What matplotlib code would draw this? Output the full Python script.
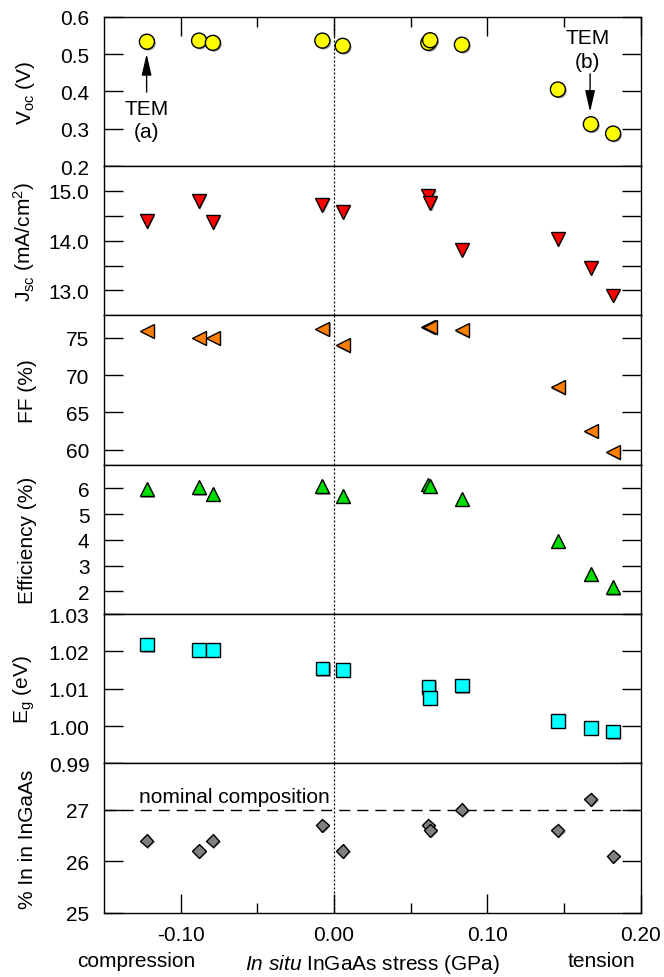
import matplotlib.pyplot as plt
import matplotlib.patheffects as pe
from matplotlib.ticker import FormatStrFormatter

plt.rcParams['font.family'] = ['Liberation Sans', 'DejaVu Sans']
plt.rcParams['mathtext.fontset'] = 'custom'
plt.rcParams['mathtext.rm'] = 'Liberation Sans'
plt.rcParams['mathtext.it'] = 'Liberation Sans:italic'
plt.rcParams['font.size'] = 15

# in situ stress of each sample (GPa)
stress = [-0.122, -0.088, -0.079, -0.0076, 0.0057, 0.0615, 0.0627, 0.0834, 0.146, 0.1675, 0.182]

voc = [0.533, 0.536, 0.530, 0.536, 0.522, 0.530, 0.537, 0.525, 0.405, 0.312, 0.287]
jsc = [14.39, 14.79, 14.37, 14.72, 14.58, 14.89, 14.75, 13.82, 14.04, 13.46, 12.90]
ff = [75.9, 75.0, 75.0, 76.2, 74.0, 76.5, 76.4, 76.0, 68.35, 62.5, 59.65]
eff = [5.97, 6.04, 5.80, 6.08, 5.70, 6.15, 6.10, 5.60, 3.97, 2.68, 2.16]
eg = [1.0218, 1.0203, 1.0203, 1.0154, 1.0150, 1.0104, 1.0075, 1.0109, 1.0014, 0.9995, 0.9985]
in_pct = [26.40, 26.20, 26.40, 26.70, 26.20, 26.70, 26.60, 27.00, 26.60, 27.20, 26.10]

nominal_in = 27

ylabels = [r'V$_{\mathrm{oc}}$ (V)', r'J$_{\mathrm{sc}}$ (mA/cm$^{\mathrm{2}}$)', 'FF (%)',
           'Efficiency (%)', r'E$_{\mathrm{g}}$ (eV)', '% In in InGaAs']

fig, axes = plt.subplots(6, 1, sharex=True, figsize=(6.64, 9.78), dpi=100)
fig.subplots_adjust(left=0.1566, right=0.9649, top=0.9819, bottom=0.0657, hspace=0)

shadow = [pe.SimplePatchShadow(offset=(1.0, -1.0), shadow_rgbFace='0.35', alpha=0.6), pe.Normal()]

# (values, marker, colour, size, ylim, major ticks, minor ticks, format)
panels = [
    (voc, 'o', '#ffff00', 10.8, (0.2, 0.6), [0.2, 0.3, 0.4, 0.5, 0.6], [], '%.1f'),
    (jsc, 'v', '#ff0000', 10.0, (12.5, 15.5), [13, 14, 15], [13.5, 14.5], '%.1f'),
    (ff, '<', '#ff8000', 10.0, (58, 78), [60, 65, 70, 75], [], '%d'),
    (eff, '^', '#00dd00', 10.0, (1.12, 6.92), [2, 3, 4, 5, 6], [], '%d'),
    (eg, 's', '#00ffff', 9.8, (0.99, 1.03), [0.99, 1.00, 1.01, 1.02, 1.03], [], '%.2f'),
    (in_pct, 'D', '#808080', 6.7, (25, 27.9), [25, 26, 27], [], '%d'),
]

for i, (ax, p) in enumerate(zip(axes, panels)):
    vals, mk, col, ms, ylim, major, minor, fmt = p
    ax.axvline(0, color='k', lw=0.9, ls=(0, (1.6, 1.6)), zorder=1)
    ax.plot(stress, vals, ls='none', marker=mk, ms=ms, mfc=col, mec='k', mew=1.0,
            zorder=3, path_effects=shadow)
    ax.set_ylim(*ylim)
    ax.set_yticks(major)
    ax.set_yticks(minor, minor=True)
    ax.yaxis.set_major_formatter(FormatStrFormatter(fmt))
    ax.tick_params(axis='y', which='both', direction='in', left=True, right=True,
                   length=13.5, width=1.0, pad=10.5, labelsize=15)
    ax.tick_params(axis='x', which='both', bottom=False, top=False)
    ax.set_ylabel(ylabels[i], fontsize=15)
    ax.yaxis.set_label_coords(-0.124, 0.5)
    for s in ax.spines.values():
        s.set_linewidth(1.0)

ax = axes[-1]
ax.set_xlim(-0.15, 0.20)
ax.set_xticks([-0.10, 0.00, 0.10, 0.20])
ax.set_xticks([-0.05, 0.05, 0.15], minor=True)
ax.xaxis.set_major_formatter(FormatStrFormatter('%.2f'))
ax.tick_params(axis='x', which='major', direction='in', bottom=True, length=14, width=1.0, pad=8.5, labelsize=15)
ax.tick_params(axis='x', which='minor', direction='in', bottom=True, length=7, width=1.0)
ax.set_xlabel(r'$\mathit{In\ situ}$ InGaAs stress (GPa)', fontsize=15, labelpad=6)
ax.axhline(nominal_in, color='k', lw=1.0, ls=(0, (8, 5)), zorder=2)
ax.text(-0.127, 27.26, 'nominal composition', ha='left', va='center', fontsize=15)

top = axes[0]
top.tick_params(axis='x', which='major', direction='in', top=True, length=14, width=1.0)
top.tick_params(axis='x', which='minor', direction='in', top=True, length=7, width=1.0)

head = '-|>,head_length=0.65,head_width=0.15'
top.annotate('', xy=(-0.1222, 0.5005), xytext=(-0.1222, 0.398),
             arrowprops=dict(arrowstyle=head, color='k', lw=1.0, mutation_scale=20, shrinkA=0, shrinkB=0))
top.text(-0.1222, 0.3235, 'TEM\n(a)', ha='center', va='center', fontsize=15, linespacing=1.3)
top.annotate('', xy=(0.167, 0.345), xytext=(0.167, 0.447),
             arrowprops=dict(arrowstyle=head, color='k', lw=1.0, mutation_scale=20, shrinkA=0, shrinkB=0))
top.text(0.1654, 0.5125, 'TEM\n(b)', ha='center', va='center', fontsize=15, linespacing=1.3)

fig.text(136.7 / 664, 1 - 962 / 978, 'compression', ha='center', va='center', fontsize=15)
fig.text(601.7 / 664, 1 - 962 / 978, 'tension', ha='center', va='center', fontsize=15)

fig.savefig('out.png', dpi=100)
